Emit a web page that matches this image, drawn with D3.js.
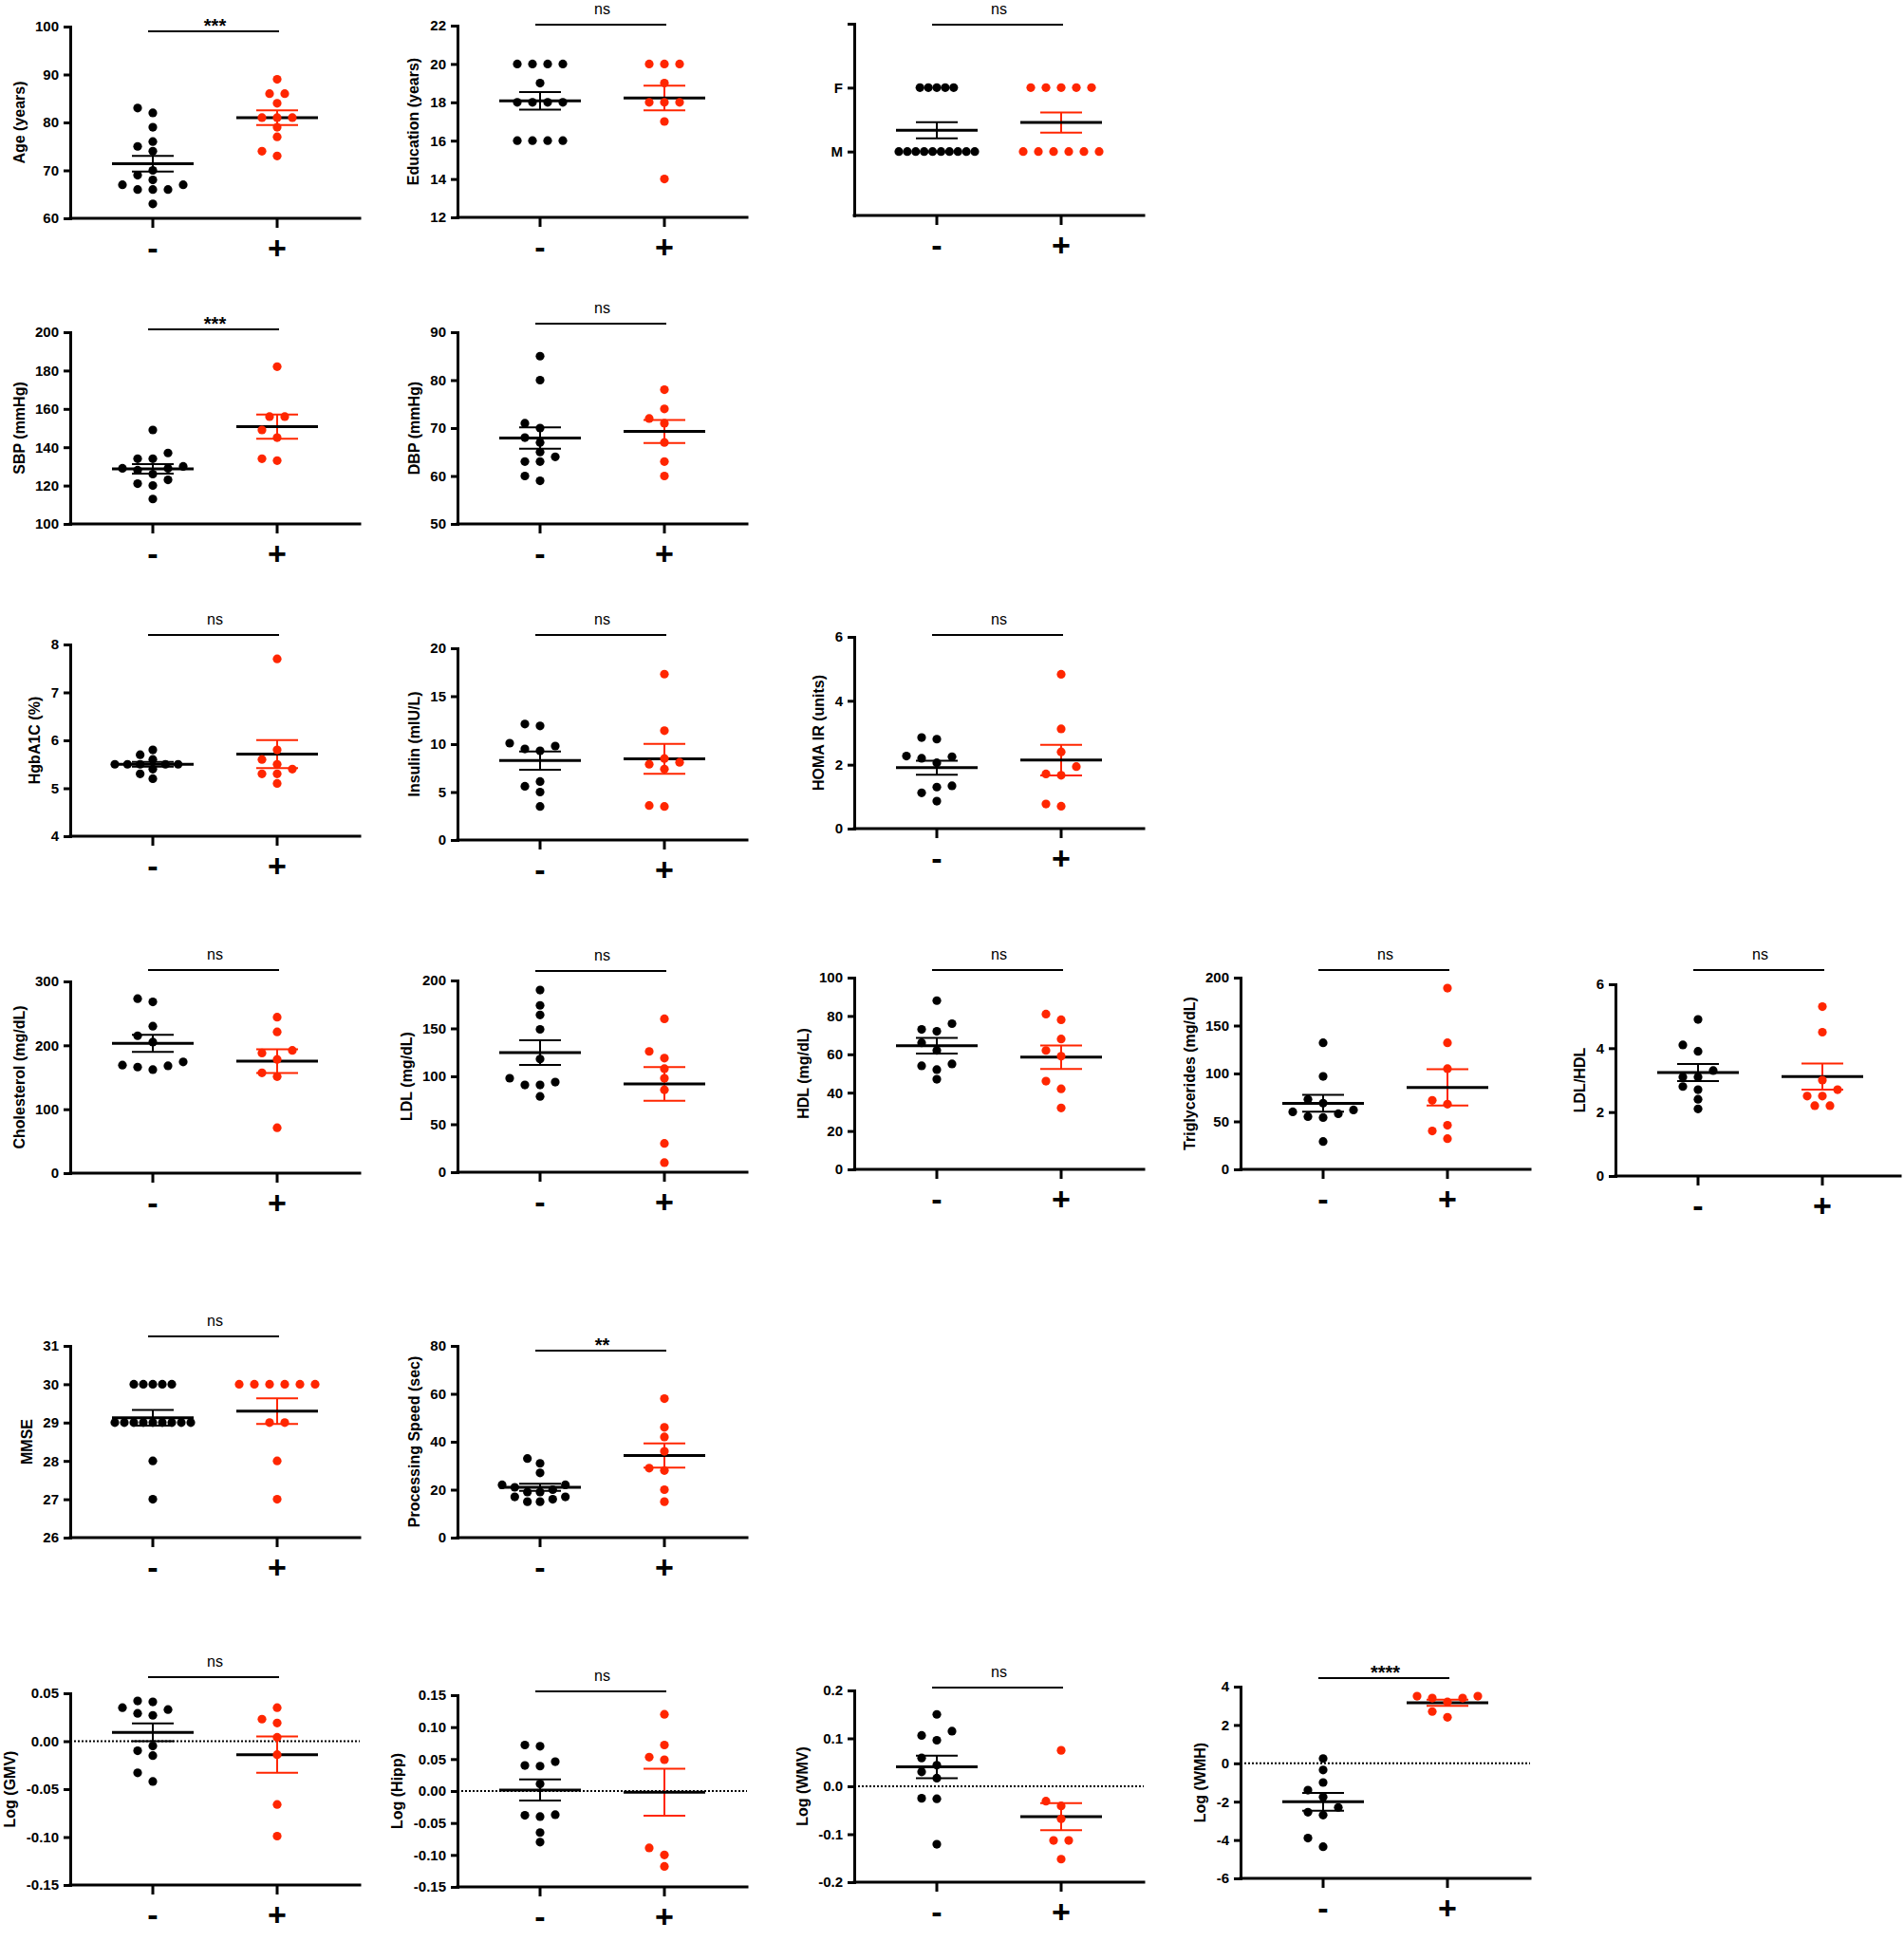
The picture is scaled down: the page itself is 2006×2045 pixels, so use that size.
<!DOCTYPE html>
<html>
<head>
<meta charset="utf-8">
<script src="https://cdn.jsdelivr.net/npm/d3@7.9.0/dist/d3.min.js"></script>
<style>
  body { margin: 0; background: #fff; }
  svg { display: block; font-family: "Liberation Sans", Arial, Helvetica, sans-serif; }
</style>
</head>
<body>
<svg id="chart" width="2006" height="2045"></svg>
<script>
const groups = ['-', '+'];

// values, one array per group
const ageNeg = [83, 82, 79, 76, 75, 74, 70, 69, 68, 67, 67, 66, 66, 66, 63];
const agePos = [89, 86, 86, 84, 81, 81, 81, 79, 77, 74, 73];
const eduNeg = [20, 20, 20, 20, 19, 18, 18, 18, 18, 16, 16, 16, 16];
const eduPos = [20, 20, 20, 19, 18, 18, 18, 17, 14];
const sexNeg = [1, 1, 1, 1, 1, 0, 0, 0, 0, 0, 0, 0, 0, 0, 0];   // F = 1, M = 0
const sexPos = [1, 1, 1, 1, 1, 0, 0, 0, 0, 0, 0];
const sbpNeg = [149, 137, 134, 134, 130, 129, 129, 128, 126, 123, 121, 120, 113];
const sbpPos = [182, 156, 156, 149, 145, 134, 133];
const dbpNeg = [85, 80, 71, 70, 68, 67, 65, 64, 63, 63, 60, 59];
const dbpPos = [78, 74, 72, 71, 67, 63, 60];
const a1cNeg = [5.8, 5.7, 5.6, 5.5, 5.5, 5.5, 5.5, 5.5, 5.4, 5.3, 5.2];
const a1cPos = [7.7, 5.8, 5.6, 5.5, 5.4, 5.3, 5.3, 5.1];
const insNeg = [12.1, 11.9, 10.1, 9.8, 9.5, 9.3, 6.1, 5.6, 5.0, 3.5];
const insPos = [17.3, 11.4, 8.5, 8.1, 7.9, 7.4, 3.6, 3.5];
const homaNeg = [2.85, 2.8, 2.27, 2.25, 2.2, 2.06, 1.34, 1.3, 1.12, 0.86];
const homaPos = [4.83, 3.12, 2.4, 1.94, 1.71, 1.67, 0.77, 0.7];
const cholNeg = [273, 268, 230, 215, 205, 174, 169, 168, 166, 162];
const cholPos = [244, 221, 192, 188, 178, 157, 151, 71];
const ldlNeg = [190, 174, 164, 149, 118, 98, 94, 91, 91, 79];
const ldlPos = [160, 126, 119, 108, 98, 86, 30, 10];
const hdlNeg = [88, 76, 73, 72, 66, 62, 55, 54, 52, 47];
const hdlPos = [81, 78, 68, 62, 59, 46, 42, 32];
const trigNeg = [132, 97, 73, 69, 62, 60, 58, 55, 54, 29];
const trigPos = [189, 132, 105, 72, 68, 46, 40, 32];
const ratioNeg = [4.9, 4.1, 3.9, 3.3, 3.1, 3.1, 2.8, 2.7, 2.4, 2.1];
const ratioPos = [5.3, 4.5, 3.0, 2.7, 2.5, 2.5, 2.2, 2.2];
const mmseNeg = [30, 30, 30, 30, 30, 29, 29, 29, 29, 29, 29, 29, 29, 29, 28, 27];
const mmsePos = [30, 30, 30, 30, 30, 30, 29, 29, 28, 27];
const speedNeg = [33, 31, 27, 22, 22, 21, 20, 19, 19, 17, 17, 16, 15, 15];
const speedPos = [58, 46, 42, 36, 29, 28, 20, 15];
const gmvNeg = [0.042, 0.041, 0.035, 0.033, 0.029, 0.027, -0.005, -0.010, -0.015, -0.033, -0.042];
const gmvPos = [0.035, 0.023, 0.019, 0.004, -0.014, -0.066, -0.099];
const hippNeg = [0.072, 0.070, 0.046, 0.040, 0.039, 0.011, -0.037, -0.038, -0.040, -0.065, -0.080];
const hippPos = [0.120, 0.072, 0.053, 0.049, -0.089, -0.100, -0.118];
const wmvNeg = [0.150, 0.115, 0.106, 0.096, 0.059, 0.044, 0.030, 0.017, -0.025, -0.026, -0.121];
const wmvPos = [0.075, -0.031, -0.041, -0.068, -0.113, -0.113, -0.152];
const wmhNeg = [0.25, -0.35, -1.0, -1.4, -1.75, -2.3, -2.55, -2.7, -3.9, -4.35];
const wmhPos = [3.5, 3.5, 3.4, 3.4, 3.2, 2.7, 2.4];

// tick values
const ageTicks = [60, 70, 80, 90, 100];
const eduTicks = [12, 14, 16, 18, 20, 22];
const sexTicks = [0, 1, 2];
const sexLabels = ['M', 'F', ''];
const sbpTicks = [100, 120, 140, 160, 180, 200];
const dbpTicks = [50, 60, 70, 80, 90];
const a1cTicks = [4, 5, 6, 7, 8];
const insTicks = [0, 5, 10, 15, 20];
const homaTicks = [0, 2, 4, 6];
const cholTicks = [0, 100, 200, 300];
const ldlTicks = [0, 50, 100, 150, 200];
const hdlTicks = [0, 20, 40, 60, 80, 100];
const trigTicks = [0, 50, 100, 150, 200];
const ratioTicks = [0, 2, 4, 6];
const mmseTicks = [26, 27, 28, 29, 30, 31];
const speedTicks = [0, 20, 40, 60, 80];
const gmvTicks = [-0.15, -0.10, -0.05, 0, 0.05];
const hippTicks = [-0.15, -0.10, -0.05, 0, 0.05, 0.10, 0.15];
const wmvTicks = [-0.2, -0.1, 0, 0.1, 0.2];
const wmhTicks = [-6, -4, -2, 0, 2, 4];

const C1 = 74, C2 = 482, C3 = 900, C4 = 1307, C5 = 1702;

const panels = [
  {neg: ageNeg, pos: agePos, title: 'Age (years)', domain: [60, 100], ticks: ageTicks, x: C1, top: 28, sig: '***', sigDy: 5},
  {neg: eduNeg, pos: eduPos, title: 'Education (years)', domain: [12, 22], ticks: eduTicks, x: C2, top: 27, sig: 'ns', sigDy: -1},
  {neg: sexNeg, pos: sexPos, title: '', domain: [-1, 2], ticks: sexTicks, labels: sexLabels, x: C3, top: 25, sig: 'ns', sigDy: 1},
  {neg: sbpNeg, pos: sbpPos, title: 'SBP (mmHg)', domain: [100, 200], ticks: sbpTicks, x: C1, top: 350, sig: '***', sigDy: -3},
  {neg: dbpNeg, pos: dbpPos, title: 'DBP (mmHg)', domain: [50, 90], ticks: dbpTicks, x: C2, top: 350, sig: 'ns', sigDy: -9},
  {neg: a1cNeg, pos: a1cPos, title: 'HgbA1C (%)', domain: [4, 8], ticks: a1cTicks, x: C1, top: 679, sig: 'ns', sigDy: -10},
  {neg: insNeg, pos: insPos, title: 'Insulin (mIU/L)', domain: [0, 20], ticks: insTicks, x: C2, top: 683, sig: 'ns', sigDy: -14},
  {neg: homaNeg, pos: homaPos, title: 'HOMA IR (units)', domain: [0, 6], ticks: homaTicks, x: C3, top: 671, sig: 'ns', sigDy: -2},
  {neg: cholNeg, pos: cholPos, title: 'Cholesterol (mg/dL)', domain: [0, 300], ticks: cholTicks, x: C1, top: 1034, sig: 'ns', sigDy: -12},
  {neg: ldlNeg, pos: ldlPos, title: 'LDL (mg/dL)', domain: [0, 200], ticks: ldlTicks, x: C2, top: 1033, sig: 'ns', sigDy: -10},
  {neg: hdlNeg, pos: hdlPos, title: 'HDL (mg/dL)', domain: [0, 100], ticks: hdlTicks, x: C3, top: 1030, sig: 'ns', sigDy: -8},
  {neg: trigNeg, pos: trigPos, title: 'Triglycerides (mg/dL)', domain: [0, 200], ticks: trigTicks, x: C4, top: 1030, sig: 'ns', sigDy: -8},
  {neg: ratioNeg, pos: ratioPos, title: 'LDL/HDL', domain: [0, 6], ticks: ratioTicks, x: C5, top: 1037, sig: 'ns', sigDy: -15, w: 300},
  {neg: mmseNeg, pos: mmsePos, title: 'MMSE', domain: [26, 31], ticks: mmseTicks, x: C1, top: 1418, sig: 'ns', sigDy: -10},
  {neg: speedNeg, pos: speedPos, title: 'Processing Speed (sec)', domain: [0, 80], ticks: speedTicks, x: C2, top: 1418, sig: '**', sigDy: 5},
  {neg: gmvNeg, pos: gmvPos, title: 'Log (GMV)', domain: [-0.15, 0.05], ticks: gmvTicks, fmt: '.2f', x: C1, top: 1784, sig: 'ns', sigDy: -17, zero: true},
  {neg: hippNeg, pos: hippPos, title: 'Log (Hipp)', domain: [-0.15, 0.15], ticks: hippTicks, fmt: '.2f', x: C2, top: 1786, sig: 'ns', sigDy: -4, zero: true},
  {neg: wmvNeg, pos: wmvPos, title: 'Log (WMV)', domain: [-0.2, 0.2], ticks: wmvTicks, fmt: '.1f', x: C3, top: 1781, sig: 'ns', sigDy: -3, zero: true},
  {neg: wmhNeg, pos: wmhPos, title: 'Log (WMH)', domain: [-6, 4], ticks: wmhTicks, x: C4, top: 1777, sig: '****', sigDy: -9, zero: true}
];

const H = 202;
const R = 4.6;
const RED = '#ff2600';
const svg = d3.select('#chart');

// scatter points sideways on a grid, rows of equal values stay centred
function swarm(vals, y) {
  const T = 10;
  const pts = vals.map(v => ({v, py: y(v), u: 0})).sort((a, b) => a.v - b.v);
  const placed = [];
  for (const [v, run] of d3.groups(pts, d => d.v)) {
    const n = run.length;
    const alone = pts.every(q => q.v === v || Math.abs(q.py - run[0].py) >= T);
    if (alone) {
      run.forEach((p, i) => { p.u = i - (n - 1) / 2; placed.push(p); });
      continue;
    }
    for (const p of run) {
      let best = 0, bestHits = Infinity;
      for (const u of [0, -1, 1, -2, 2, -3, 3, -4, 4]) {
        const hits = placed.filter(q => Math.abs(q.u - u) < 0.9 && Math.abs(q.py - p.py) < T).length;
        if (hits < bestHits) { best = u; bestHits = hits; }
        if (hits === 0) break;
      }
      p.u = best;
      placed.push(p);
    }
  }
  const maxU = d3.max(pts, p => Math.abs(p.u)) || 1;
  const s = Math.min(16, 40 / maxU);
  pts.forEach(p => p.dx = p.u * s);
  return pts;
}

function drawPanel(p) {
  const W = p.w || 305;
  const g = svg.append('g').attr('transform', `translate(${p.x},${p.top})`);
  const y = d3.scaleLinear().domain(p.domain).range([H, 0]);
  const x = d3.scalePoint().domain(groups).range([87, 218]);

  if (p.zero) {
    g.append('line')
      .attr('x1', 0).attr('x2', W)
      .attr('y1', y(0)).attr('y2', y(0))
      .attr('stroke', '#000').attr('stroke-width', 2)
      .attr('stroke-dasharray', '2,2');
  }

  [p.neg, p.pos].forEach((vals, gi) => {
    const cx = x(groups[gi]);
    const col = gi ? RED : '#000';
    const m = d3.mean(vals);
    const se = d3.deviation(vals) / Math.sqrt(vals.length);

    g.append('line')
      .attr('x1', cx).attr('x2', cx)
      .attr('y1', y(m - se)).attr('y2', y(m + se))
      .attr('stroke', col).attr('stroke-width', 2);
    [m - se, m + se].forEach(v => {
      g.append('line')
        .attr('x1', cx - 22).attr('x2', cx + 22)
        .attr('y1', y(v)).attr('y2', y(v))
        .attr('stroke', col).attr('stroke-width', 2);
    });
    g.append('line')
      .attr('x1', cx - 43).attr('x2', cx + 43)
      .attr('y1', y(m)).attr('y2', y(m))
      .attr('stroke', '#000').attr('stroke-width', 3);

    g.append('g').selectAll('circle')
      .data(swarm(vals, y))
      .join('circle')
      .attr('cx', d => cx + d.dx)
      .attr('cy', d => d.py)
      .attr('r', R)
      .attr('fill', col);
  });

  // y axis
  const fmt = p.labels ? (d => p.labels[p.ticks.indexOf(d)])
    : p.fmt ? (d => d3.format(p.fmt)(d).replace('\u2212', '-'))
    : (d => String(d));
  const ax = g.append('g')
    .call(d3.axisLeft(y).tickValues(p.ticks).tickSize(7).tickSizeOuter(0).tickPadding(5).tickFormat(fmt));
  ax.attr('font-family', null);
  ax.select('.domain').attr('stroke-width', 3).attr('stroke-linecap', 'square');
  ax.selectAll('.tick line').attr('stroke-width', 3);
  ax.selectAll('.tick text')
    .attr('font-size', 15)
    .attr('font-weight', 'bold')
    .attr('fill', '#000');

  // x axis
  g.append('line')
    .attr('x1', 0).attr('x2', W)
    .attr('y1', H).attr('y2', H)
    .attr('stroke', '#000').attr('stroke-width', 3)
    .attr('stroke-linecap', 'square');
  groups.forEach(k => {
    g.append('line')
      .attr('x1', x(k)).attr('x2', x(k))
      .attr('y1', H).attr('y2', H + 10)
      .attr('stroke', '#000').attr('stroke-width', 3);
    g.append('text')
      .attr('x', x(k)).attr('y', H + 43)
      .attr('text-anchor', 'middle')
      .attr('font-size', 34).attr('font-weight', 'bold')
      .text(k);
  });

  // axis title, placed left of the widest tick label
  if (p.title) {
    let maxW = 0;
    ax.selectAll('.tick text').each(function () { maxW = Math.max(maxW, this.getBBox().width); });
    const tx = -(12 + maxW + 17);
    g.append('text')
      .attr('transform', `translate(${tx},${H / 2}) rotate(-90)`)
      .attr('dy', '0.35em')
      .attr('text-anchor', 'middle')
      .attr('font-size', 16).attr('font-weight', 'bold')
      .text(p.title);
  }

  // significance bar
  g.append('line')
    .attr('x1', x(groups[0]) - 5).attr('x2', x(groups[1]) + 2)
    .attr('y1', p.sigDy).attr('y2', p.sigDy)
    .attr('stroke', '#000').attr('stroke-width', 2.2);
  const isNs = p.sig === 'ns';
  g.append('text')
    .attr('x', (x(groups[0]) + x(groups[1])) / 2)
    .attr('y', isNs ? p.sigDy - 11 : p.sigDy + 1)
    .attr('text-anchor', 'middle')
    .attr('font-size', isNs ? 16 : 20)
    .attr('font-weight', isNs ? 'normal' : 'bold')
    .text(p.sig);
}

panels.forEach(drawPanel);
</script>
</body>
</html>
